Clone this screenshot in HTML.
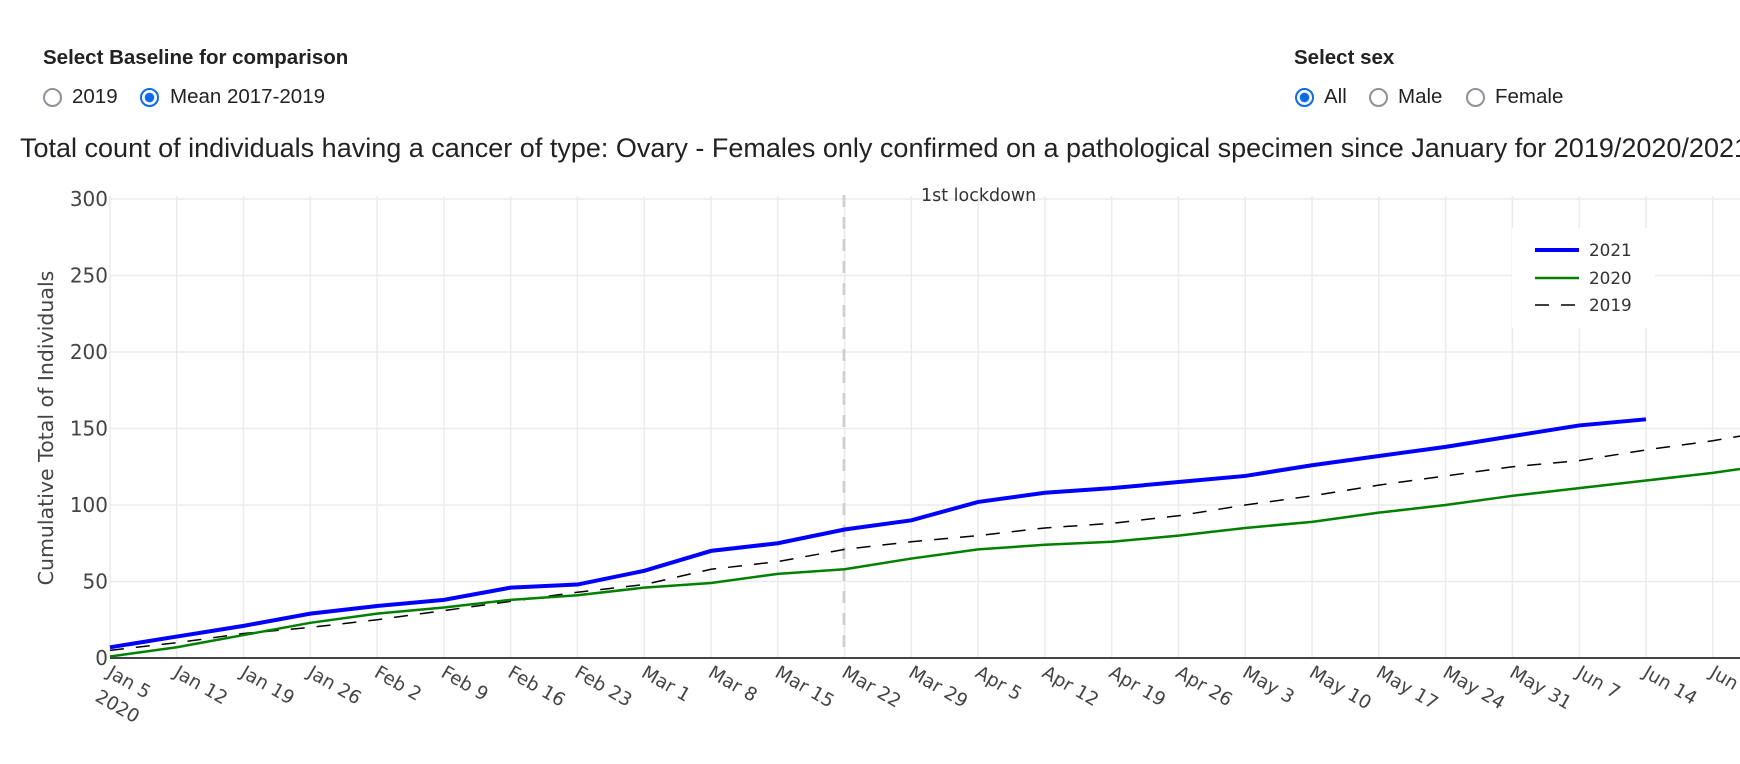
<!DOCTYPE html>
<html><head><meta charset="utf-8"><style>
body{margin:0;width:1740px;height:764px;overflow:hidden;background:#fff;font-family:"Liberation Sans",Arial,sans-serif;color:#222}
.lbl{position:absolute;font-weight:bold;font-size:20.5px;color:#222;line-height:24px}
.t{position:absolute;font-size:20.5px;color:#222;line-height:24px}
.r{position:absolute;width:19px;height:19px;border-radius:50%;border:2.5px solid #909098;box-sizing:border-box}
.r.on{border:2.5px solid #0b6be6;background:radial-gradient(circle,#0b6be6 0 4.3px,#fff 5.2px)}
</style></head><body>
<div class="lbl" style="left:43px;top:46px">Select Baseline for comparison</div>
<span class="r" style="left:43px;top:88px"></span><div class="t" style="left:72px;top:85px">2019</div>
<span class="r on" style="left:140px;top:88px"></span><div class="t" style="left:170px;top:85px">Mean 2017-2019</div>
<div class="lbl" style="left:1294px;top:46px">Select sex</div>
<span class="r on" style="left:1295px;top:88px"></span><div class="t" style="left:1324px;top:85px">All</div>
<span class="r" style="left:1369px;top:88px"></span><div class="t" style="left:1398px;top:85px">Male</div>
<span class="r" style="left:1466px;top:88px"></span><div class="t" style="left:1495px;top:85px">Female</div>
<div style="position:absolute;left:20px;top:133px;font-size:27px;white-space:nowrap;color:#222">Total count of individuals having a cancer of type: Ovary - Females only confirmed on a pathological specimen since January for 2019/2020/2021</div>
<svg id="s" width="1740" height="764" style="position:absolute;left:0;top:0" font-family="DejaVu Sans, sans-serif"></svg>
<script>
const X0=110,W=66.78,Y0=658,K=1.53;
const names=["Jan 5","Jan 12","Jan 19","Jan 26","Feb 2","Feb 9","Feb 16","Feb 23","Mar 1","Mar 8","Mar 15","Mar 22","Mar 29","Apr 5","Apr 12","Apr 19","Apr 26","May 3","May 10","May 17","May 24","May 31","Jun 7","Jun 14","Jun 21"];
let h='';
for(let v=0;v<=300;v+=50){const y=Y0-v*K;h+=`<line x1="110" x2="1740" y1="${y}" y2="${y}" stroke="#ebebeb" stroke-width="1.5"/><text x="108" y="${y+7}" text-anchor="end" font-size="20" fill="#444">${v}</text>`;}
names.forEach((n,i)=>{const x=X0+i*W;h+=`<line x1="${x}" x2="${x}" y1="196" y2="658" stroke="#ebebeb" stroke-width="1.5"/><text transform="translate(${x-4},${676}) rotate(30)" font-size="18.5" fill="#444">${n}</text>`;});
h+=`<text transform="translate(${X0-16},${700}) rotate(30)" font-size="18.5" fill="#444">2020</text>`;
h+=`<rect x="1512" y="228" width="143" height="100" fill="#fff"/>`;
const pl=(a,ext)=>{let p=a.map((v,i)=>`${X0+i*W},${Y0-v*K}`);if(ext)p.push(`1740,${Y0-ext*K}`);return p.join(' ');};
const b=[7,14,21,29,34,38,46,48,57,70,75,84,90,102,108,111,115,119,126,132,138,145,152,156];
const g=[1,7,15,23,29,33,38,41,46,49,55,58,65,71,74,76,80,85,89,95,100,106,111,116,121];
const d=[5,10,16,20,25,31,37,43,48,58,63,71,76,80,85,88,93,100,106,113,119,125,129,136,142];
h+=`<line x1="844" x2="844" y1="195" y2="658" stroke="#d0d0d0" stroke-width="3" stroke-dasharray="12,10"/>`;
h+=`<polyline points="${pl(d,145)}" fill="none" stroke="#000" stroke-width="1.5" stroke-dasharray="14,12"/>`;
h+=`<polyline points="${pl(g,123.5)}" fill="none" stroke="#008000" stroke-width="2.5"/>`;
h+=`<polyline points="${pl(b)}" fill="none" stroke="#0000ff" stroke-width="4"/>`;
h+=`<line x1="110" x2="1740" y1="658" y2="658" stroke="#444" stroke-width="2"/>`;
h+=`<text x="921" y="201" font-size="17.5" fill="#333">1st lockdown</text>`;
const ly=[250,278,305];
h+=`<line x1="1535" x2="1579" y1="${ly[0]}" y2="${ly[0]}" stroke="#0000ff" stroke-width="4"/><text x="1589" y="${ly[0]+6}" font-size="16.8" fill="#333">2021</text>`;
h+=`<line x1="1535" x2="1579" y1="${ly[1]}" y2="${ly[1]}" stroke="#008000" stroke-width="2.5"/><text x="1589" y="${ly[1]+6}" font-size="16.8" fill="#333">2020</text>`;
h+=`<line x1="1535" x2="1579" y1="${ly[2]}" y2="${ly[2]}" stroke="#000" stroke-width="1.5" stroke-dasharray="14,12"/><text x="1589" y="${ly[2]+6}" font-size="16.8" fill="#333">2019</text>`;
h+=`<text transform="translate(53,428) rotate(-90)" text-anchor="middle" font-size="20.5" fill="#444">Cumulative Total of Individuals</text>`;
document.getElementById('s').innerHTML=h;
</script>
</body></html>
